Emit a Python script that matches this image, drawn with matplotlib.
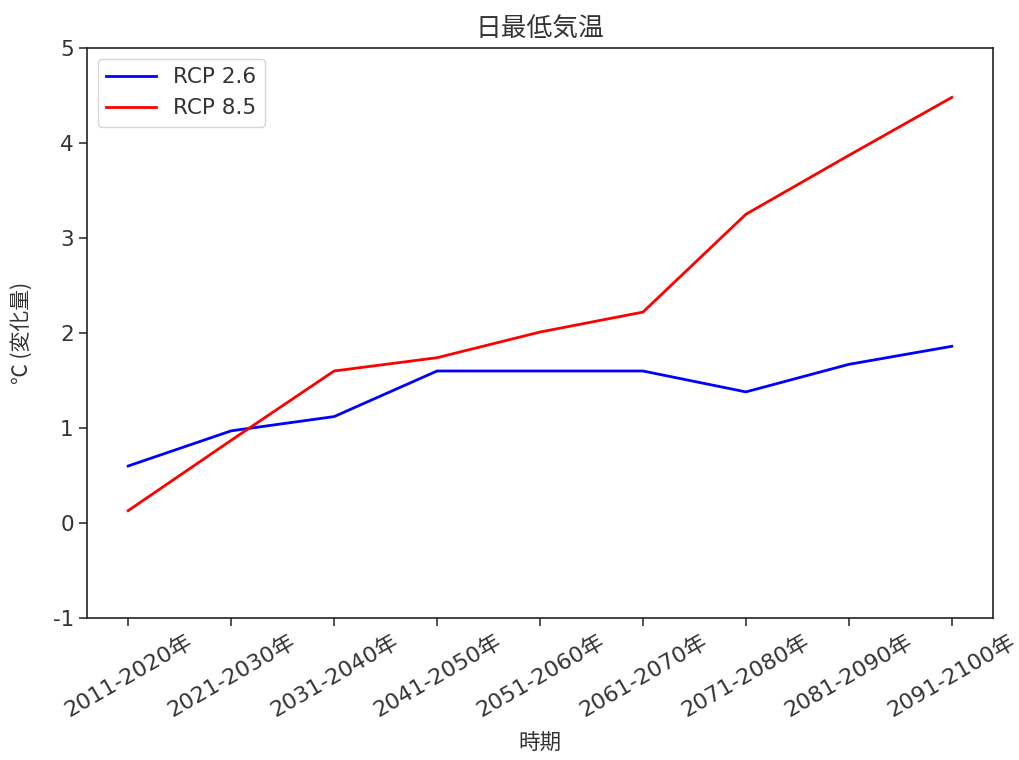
import matplotlib
matplotlib.use("Agg")
import matplotlib.pyplot as plt

plt.rcParams['font.family'] = ['DejaVu Sans', 'Noto Sans CJK JP']
plt.rcParams['axes.unicode_minus'] = False

periods = ["2011-2020年", "2021-2030年", "2031-2040年", "2041-2050年", "2051-2060年",
           "2061-2070年", "2071-2080年", "2081-2090年", "2091-2100年"]
rcp26 = [0.60, 0.97, 1.12, 1.60, 1.60, 1.60, 1.38, 1.67, 1.86]
rcp85 = [0.13, 0.87, 1.60, 1.74, 2.01, 2.22, 3.25, 3.87, 4.48]

txt = '#333333'
fig = plt.figure(figsize=(10.2, 7.6), dpi=100)
ax = fig.add_axes([87/1020, 1-618/760, (993-87)/1020, (618-48)/760])
x = list(range(len(periods)))
ax.plot(x, rcp26, color='blue', lw=2, label='RCP 2.6')
ax.plot(x, rcp85, color='red', lw=2, label='RCP 8.5')
ax.set_ylim(-1, 5)
ax.set_yticks([-1, 0, 1, 2, 3, 4, 5])
ax.set_xticks(x)
ax.set_xticklabels(periods, rotation=30, ha='center')
ax.tick_params(axis='x', labelsize=16)
ax.tick_params(axis='y', labelsize=15.5)
ax.tick_params(length=6, width=1.2, colors=txt, labelcolor=txt)
for s in ax.spines.values():
    s.set_linewidth(1.2)
    s.set_color('#222222')
ax.set_title('日最低気温', fontsize=18.5, pad=9, color=txt)
ax.set_xlabel('時期', fontsize=15.5, color=txt, labelpad=8)
ax.set_ylabel('℃ (変化量)', fontsize=15, color=txt, labelpad=14,
              family=['Noto Sans CJK JP', 'DejaVu Sans'])
leg = ax.legend(loc='upper left', fontsize=15.5, handlelength=2.3)
for t in leg.get_texts():
    t.set_color(txt)
fig.savefig('out.png', dpi=100)
